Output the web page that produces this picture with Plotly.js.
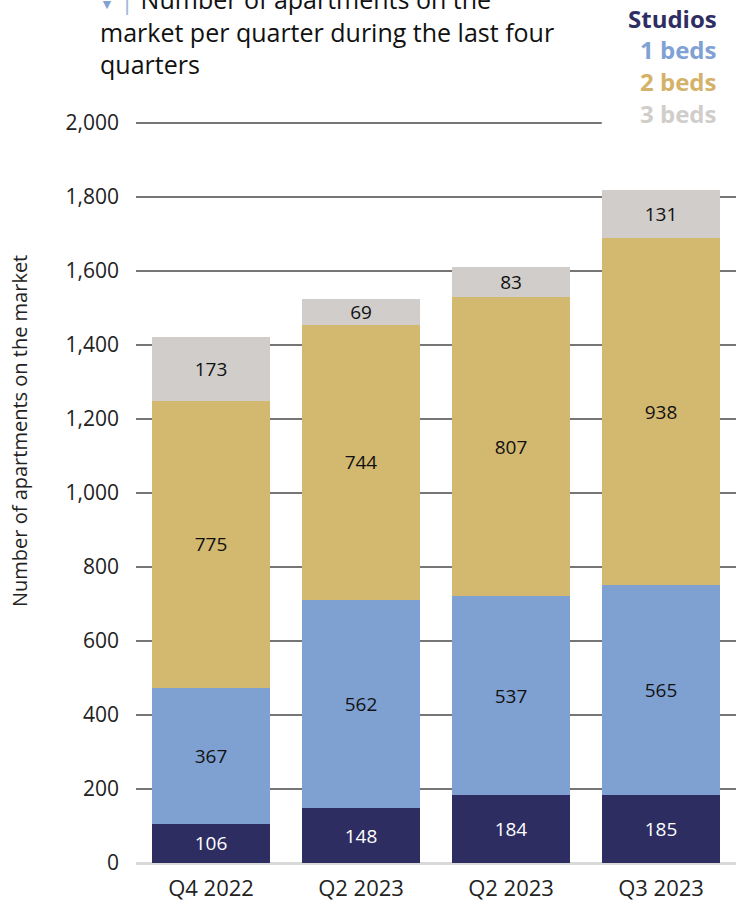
<!DOCTYPE html>
<html>
<head>
<meta charset="utf-8">
<script src="https://cdn.plot.ly/plotly-3.0.1.min.js"></script>
<style>html,body{margin:0;padding:0;background:#fff;}#chart{width:741px;height:903px;}</style>
</head>
<body>
<div id="chart"></div>
<script>
const categories = ["Q4 2022", "Q2 2023", "Q2 2023", "Q3 2023"];
const studios = [106, 148, 184, 185];
const beds1 = [367, 562, 537, 565];
const beds2 = [775, 744, 807, 938];
const beds3 = [173, 69, 83, 131];
const seriesNames = ["Studios", "1 beds", "2 beds", "3 beds"];
const yTicks = [0, 200, 400, 600, 800, 1000, 1200, 1400, 1600, 1800, 2000];

const colors = ["#2d2d62", "#7fa1d2", "#d3b870", "#d0cdca"];
const legendColors = ["#2e2e63", "#7fa1d4", "#d4b26a", "#d0cdca"];
const textColors = ["#ffffff", "#111111", "#111111", "#111111"];
const FONT = "'Open Sans', sans-serif";
const xs = categories.map((c, i) => i);
const allSeries = [studios, beds1, beds2, beds3];

const YMAX = 2010;
const PLOT_H = 744;           // px for [0, YMAX]
const Y0PX = 863;             // pixel row of y=0
const pxToPaper = py => (Y0PX - py) / PLOT_H;

const traces = allSeries.map((vals, k) => ({
  type: "bar",
  name: seriesNames[k],
  x: xs,
  y: vals,
  width: 0.79,
  marker: {color: colors[k], line: {width: 0}},
  text: vals.map(v => String(v)),
  textposition: "inside",
  insidetextanchor: "middle",
  textangle: 0,
  constraintext: "none",
  textfont: {family: FONT, size: 19, color: textColors[k]},
  hoverinfo: "skip"
}));

const legendAnn = seriesNames.map((n, k) => ({
  xref: "paper", yref: "paper",
  x: 1 - 17/600, xanchor: "right",
  y: pxToPaper(18 + 32*k), yanchor: "middle",
  text: "<b>" + n + "</b>",
  showarrow: false,
  font: {family: FONT, size: 24, color: legendColors[k]}
}));

const layout = {
  width: 741, height: 903,
  margin: {l: 136, r: 5, t: 903 - 40 - PLOT_H, b: 40},
  paper_bgcolor: "#ffffff", plot_bgcolor: "#ffffff",
  barmode: "stack",
  showlegend: false,
  font: {family: FONT, color: "#222"},
  xaxis: {
    range: [-0.5, 3.5],
    tickvals: xs, ticktext: categories,
    tickfont: {family: FONT, size: 22, color: "#222"},
    showgrid: false, zeroline: false,
    showline: false, ticks: "",
    ticklabelstandoff: 10,
    fixedrange: true
  },
  yaxis: {
    range: [0, YMAX],
    tickvals: yTicks,
    ticktext: yTicks.map(v => v.toLocaleString("en-US")),
    tickfont: {family: FONT, size: 21, color: "#222"},
    showgrid: true, gridcolor: "#767676", gridwidth: 2,
    zeroline: true, zerolinecolor: "#d9d9d9", zerolinewidth: 3,
    showline: false, ticks: "",
    ticklabelstandoff: 16,
    fixedrange: true
  },
  shapes: [{
    type: "rect", xref: "x", yref: "y",
    x0: 2.605, x1: 3.5, y0: 1950, y1: YMAX,
    fillcolor: "#ffffff", line: {width: 0}, layer: "between"
  }],
  annotations: [{
    xref: "paper", yref: "paper",
    x: (98 - 136) / 600, xanchor: "left",
    y: pxToPaper(31), yanchor: "middle",
    align: "left",
    text: "<span style='color:#7fa1d4;font-size:14px'>▼</span> <span style='color:#9fb7de'>|</span> Number of apartments on the<br>market per quarter during the last four<br>quarters",
    showarrow: false,
    font: {family: FONT, size: 25, color: "#111"}
  }, {
    xref: "paper", yref: "paper",
    x: (20 - 136) / 600, xanchor: "center",
    y: pxToPaper(431), yanchor: "middle",
    textangle: -90,
    text: "Number of apartments on the market",
    showarrow: false,
    font: {family: FONT, size: 20, color: "#222"}
  }].concat(legendAnn)
};

Plotly.newPlot("chart", traces, layout, {displayModeBar: false, staticPlot: true});
</script>
</body>
</html>
